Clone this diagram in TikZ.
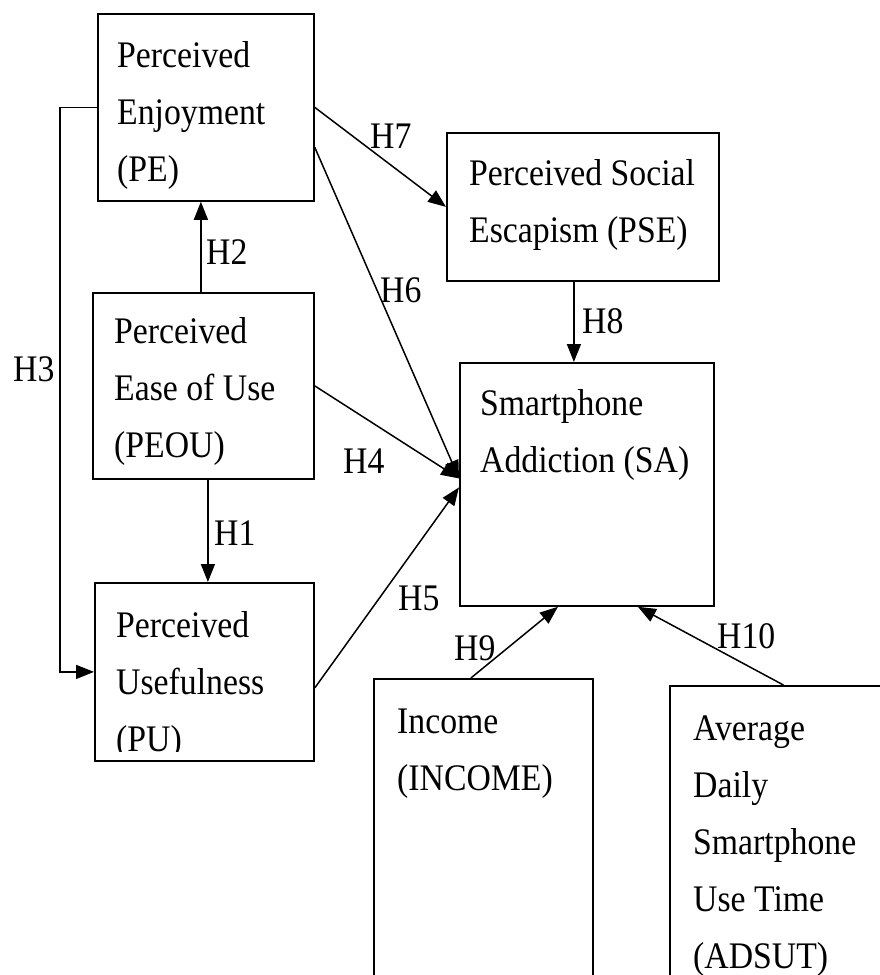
\documentclass[tikz,border=0pt]{standalone}
\usepackage{fontspec}
\setmainfont{Liberation Serif}[FakeStretch=0.9]
\usetikzlibrary{arrows.meta}
\newcommand{\mylines}[1]{\begin{tabular}[t]{@{}l@{}}#1\end{tabular}}
\begin{document}
\begin{tikzpicture}[x=1pt,y=-1pt,
  box/.style={draw, line width=1.8pt, rectangle, inner sep=0pt, anchor=north west},
  txt/.style={anchor=base west, inner sep=0pt, font=\fontsize{37.5}{57}\selectfont},
  lbl/.style={anchor=base west, inner sep=0pt, font=\fontsize{37.5}{45}\selectfont},
  arr/.style={line width=1.5pt, -{Triangle[length=18pt,width=14pt]}}]
\useasboundingbox (0,0) rectangle (880,975);
\fill[white] (0,0) rectangle (880,975);
\clip (0,0) rectangle (880,975);

% boxes
\node[box, minimum width=216pt, minimum height=187pt] (PE) at (97,13) {};
\node[box, minimum width=272pt, minimum height=148pt] (PSE) at (446,132) {};
\node[box, minimum width=221pt, minimum height=186pt] (PEOU) at (92,292) {};
\node[box, minimum width=254pt, minimum height=243pt] (SA) at (459,362) {};
\node[box, minimum width=219pt, minimum height=178pt] (PU) at (94,582) {};
\node[box, minimum width=219pt, minimum height=400pt] (INC) at (373,678) {};
\node[box, minimum width=260pt, minimum height=400pt] (ADS) at (669,685) {};

% texts
\node[txt] (tPE) at (117,67) {\mylines{Perceived\\Enjoyment\\(PE)}};
\node[txt] (tPSE) at (469,185) {\mylines{Perceived Social\\Escapism (PSE)}};
\node[txt] (tPEOU) at (114,343) {\mylines{Perceived\\Ease of Use\\(PEOU)}};
\node[txt] (tSA) at (480,415) {\mylines{Smartphone\\Addiction (SA)}};
\begin{scope}
  \clip (94,582) rectangle (313,751);
  \node[txt] (tPU) at (116,637) {\mylines{Perceived\\Usefulness\\(PU)}};
\end{scope}
\node[txt] (tINC) at (397,733) {\mylines{Income\\(INCOME)}};
\node[txt] (tADS) at (693,740) {\mylines{Average\\Daily\\Smartphone\\Use Time\\(ADSUT)}};

% connectors
\draw[arr] (PE.west) -- ++(-37,0) |- (PU.west);
\draw[arr] ([xshift=-2.5pt]PEOU.north) -- ([xshift=-2.5pt]PEOU.north |- PE.south);
\draw[arr] ([xshift=4.5pt]PEOU.south) -- ([xshift=4.5pt]PEOU.south |- PU.north);
\draw[arr] (PE.east) -- (PSE.west);
\draw[arr] ([yshift=-40pt]PE.east) -- ([yshift=6pt]SA.west);
\draw[arr] (PEOU.east) -- ([yshift=6pt]SA.west);
\draw[arr] ([yshift=-16pt]PU.east) -- ([yshift=-3pt]SA.west);
\draw[arr] ([xshift=-9pt]PSE.south) -- ([xshift=-9pt]PSE.south |- SA.north);
\draw[arr] ([xshift=-12.5pt]INC.north) -- ([xshift=-29pt]SA.south);
\draw[arr] ([xshift=-16.5pt]ADS.north) -- ([xshift=51pt]SA.south);

% labels
\node[lbl] (H1) at (214,545) {H1};
\node[lbl] (H2) at (206,264) {H2};
\node[lbl] (H3) at (13,381) {H3};
\node[lbl] (H4) at (343,473) {H4};
\node[lbl] (H5) at (398,610) {H5};
\node[lbl] (H6) at (380,302) {H6};
\node[lbl] (H7) at (370,148) {H7};
\node[lbl] (H8) at (582,333) {H8};
\node[lbl] (H9) at (454,660) {H9};
\node[lbl] (H10) at (717,648) {H10};
\end{tikzpicture}
\end{document}
